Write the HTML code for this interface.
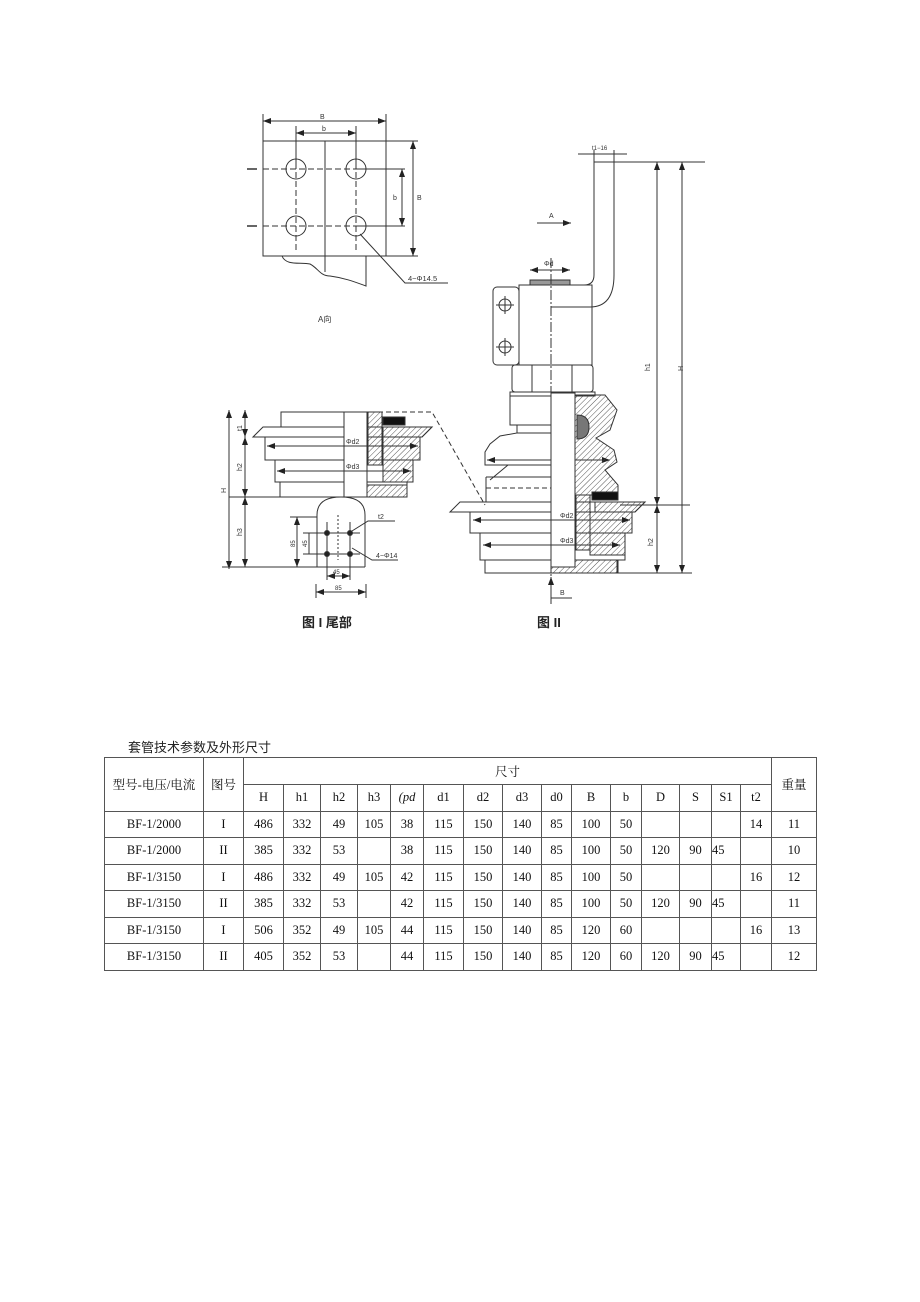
<!DOCTYPE html>
<html><head><meta charset="utf-8"><style>
html,body{margin:0;padding:0;background:#fff;}
body{width:920px;height:1302px;position:relative;overflow:hidden;font-family:"Liberation Serif","Noto Serif CJK SC",serif;}
svg{position:absolute;left:0;top:0;}
.t{position:absolute;left:128px;top:737px;font-size:13px;color:#222;font-family:"Liberation Sans","Noto Sans CJK SC",sans-serif;}
table{position:absolute;left:104px;top:757px;border-collapse:collapse;font-size:12.5px;color:#111;}
td{border:1px solid #555;text-align:center;padding:0;height:25.5px;}
</style></head><body>
<svg width="920" height="700" viewBox="0 0 920 700">
<defs>
<pattern id="h" width="4" height="4" patternUnits="userSpaceOnUse" patternTransform="rotate(45)"><line x1="0" y1="0" x2="0" y2="4" stroke="#444" stroke-width="0.9"/></pattern>
<marker id="a" markerWidth="8" markerHeight="6" refX="8" refY="3" orient="auto-start-reverse"><path d="M0,0L8,3L0,6z" fill="#222"/></marker>
</defs>
<g stroke="#333" stroke-width="1" fill="none" font-family="Liberation Sans, sans-serif" font-size="7">
<!-- A view -->
<line x1="263" y1="114" x2="263" y2="141"/><line x1="386" y1="114" x2="386" y2="141"/>
<line x1="263" y1="121" x2="386" y2="121" marker-start="url(#a)" marker-end="url(#a)"/>
<line x1="296" y1="126" x2="296" y2="169"/><line x1="356" y1="126" x2="356" y2="169"/>
<line x1="296" y1="133" x2="356" y2="133" marker-start="url(#a)" marker-end="url(#a)"/>
<rect x="263" y="141" width="123" height="115"/>
<line x1="386" y1="141" x2="418" y2="141"/><line x1="386" y1="256" x2="418" y2="256"/>
<line x1="413" y1="141" x2="413" y2="256" marker-start="url(#a)" marker-end="url(#a)"/>
<line x1="356" y1="169" x2="405" y2="169"/><line x1="356" y1="226" x2="405" y2="226"/>
<line x1="402" y1="169" x2="402" y2="226" marker-start="url(#a)" marker-end="url(#a)"/>
<line x1="247" y1="169" x2="257" y2="169" stroke-width="1.5"/><line x1="247" y1="226" x2="257" y2="226" stroke-width="1.5"/>
<line x1="263" y1="169" x2="386" y2="169" stroke-dasharray="6,3"/><line x1="263" y1="226" x2="386" y2="226" stroke-dasharray="6,3"/>
<line x1="296" y1="145" x2="296" y2="252" stroke-dasharray="6,3"/><line x1="356" y1="145" x2="356" y2="252" stroke-dasharray="6,3"/>
<line x1="325" y1="141" x2="325" y2="272"/>
<circle cx="296" cy="169" r="10"/><circle cx="356" cy="169" r="10"/><circle cx="296" cy="226" r="10"/><circle cx="356" cy="226" r="10"/>
<path d="M282,256 C286,266 300,262 310,264 C318,268 320,276 330,276 C345,278 355,282 366,286 L366,256"/>
<polyline points="360,234 405,283 448,283"/>
<text x="408" y="281" fill="#333" stroke="none" font-size="7.5">4−Φ14.5</text>
<text x="318" y="322" fill="#333" stroke="none" font-size="8">A向</text>
<text x="320" y="119" fill="#333" stroke="none">B</text><text x="322" y="131" fill="#333" stroke="none">b</text>
<text x="393" y="200" fill="#333" stroke="none">b</text><text x="417" y="200" fill="#333" stroke="none">B</text>
<!-- Figure II -->
<line x1="578" y1="154" x2="627" y2="154"/><text x="592" y="150" fill="#333" stroke="none" font-size="6">t1−16</text>
<line x1="594" y1="162" x2="705" y2="162"/>
<path d="M594,150 L594,275 M614,150 L614,275 Q614,307 590,307 L551,307 M594,275 Q594,285 584,285 L551,285"/>
<line x1="537" y1="223" x2="571" y2="223" marker-end="url(#a)"/><text x="549" y="218" fill="#333" stroke="none">A</text>
<line x1="530" y1="270" x2="570" y2="270" marker-start="url(#a)" marker-end="url(#a)"/><text x="544" y="266" fill="#333" stroke="none">Φd</text>
<rect x="530" y="280" width="40" height="5" fill="#999"/>
<rect x="519" y="285" width="73" height="80"/>
<rect x="493" y="287" width="26" height="78" rx="4"/>
<circle cx="505" cy="305" r="6"/><circle cx="505" cy="347" r="6"/>
<path d="M496,305h18M505,296v18M496,347h18M505,338v18"/>
<rect x="512" y="365" width="81" height="27" rx="3"/><line x1="532" y1="365" x2="532" y2="392"/><line x1="572" y1="365" x2="572" y2="392"/>
<rect x="510" y="392" width="85" height="4"/>
<rect x="510" y="396" width="65" height="29"/>
<path d="M517,425 L517,433 L500,436 L490,444 L485,452 L485,465 L575,465"/>
<line x1="517" y1="433" x2="575" y2="433"/>
<line x1="508" y1="465" x2="490" y2="480"/>
<path d="M486,477 L486,507 M486,477 L575,477"/>
<line x1="486" y1="488" x2="575" y2="488" stroke-dasharray="5,3"/>
<line x1="487" y1="460" x2="610" y2="460" marker-start="url(#a)" marker-end="url(#a)"/><text x="560" y="457" fill="#333" stroke="none">Φd1</text>
<path d="M575,395 L605,395 L617,410 L610,430 L596,438 L614,450 L617,462 L605,470 L618,485 L618,495 L575,495Z" fill="url(#h)"/>
<path d="M577,415 q12,0 12,12 q0,12 -12,12z" fill="#777"/>
<rect x="592" y="492" width="26" height="8" fill="#111"/>
<path d="M450,512 L460,502 L645,502 L635,512Z" fill="#fff"/><path d="M595,502 L645,502 L635,512 L595,512Z" fill="url(#h)"/>
<rect x="470" y="512" width="162" height="21"/><rect x="480" y="533" width="145" height="27"/><rect x="485" y="560" width="133" height="13"/>
<path d="M590,512 L632,512 L632,533 L625,533 L625,555 L590,555Z" fill="url(#h)"/>
<rect x="551" y="560" width="66" height="13" fill="url(#h)"/>
<rect x="551" y="393" width="24" height="174" fill="#fff"/>
<rect x="576" y="495" width="14" height="55" fill="url(#h)"/>
<line x1="551" y1="258" x2="551" y2="605" stroke-dasharray="10,2,2,2"/>
<line x1="473" y1="520" x2="630" y2="520" marker-start="url(#a)" marker-end="url(#a)"/><text x="560" y="518" fill="#333" stroke="none">Φd2</text>
<line x1="483" y1="545" x2="620" y2="545" marker-start="url(#a)" marker-end="url(#a)"/><text x="560" y="543" fill="#333" stroke="none">Φd3</text>
<line x1="485" y1="573" x2="692" y2="573"/><line x1="620" y1="505" x2="690" y2="505"/>
<line x1="657" y1="162" x2="657" y2="505" marker-start="url(#a)" marker-end="url(#a)"/>
<line x1="657" y1="505" x2="657" y2="573" marker-start="url(#a)" marker-end="url(#a)"/>
<line x1="682" y1="162" x2="682" y2="573" marker-start="url(#a)" marker-end="url(#a)"/>
<text x="645" y="370" fill="#333" stroke="none" transform="rotate(-90 648 368)">h1</text>
<text x="678" y="370" fill="#333" stroke="none" transform="rotate(-90 681 368)">H</text>
<text x="648" y="545" fill="#333" stroke="none" transform="rotate(-90 651 543)">h2</text>
<path d="M551,598 L551,577" marker-end="url(#a)"/><line x1="551" y1="598" x2="572" y2="598"/><text x="560" y="595" fill="#333" stroke="none">B</text>
<!-- Figure I -->
<path d="M282,412 L432,412 L485,505" stroke-dasharray="5,3"/>
<line x1="229" y1="410" x2="229" y2="569" marker-start="url(#a)" marker-end="url(#a)"/>
<line x1="245" y1="410" x2="245" y2="437" marker-start="url(#a)" marker-end="url(#a)"/>
<line x1="245" y1="437" x2="245" y2="497" marker-start="url(#a)" marker-end="url(#a)"/>
<line x1="245" y1="497" x2="245" y2="567" marker-start="url(#a)" marker-end="url(#a)"/>
<text x="237" y="430" fill="#333" stroke="none" transform="rotate(-90 240 428)">t1</text>
<text x="237" y="470" fill="#333" stroke="none" transform="rotate(-90 240 468)">h2</text>
<text x="221" y="492" fill="#333" stroke="none" transform="rotate(-90 224 490)">H</text>
<text x="237" y="535" fill="#333" stroke="none" transform="rotate(-90 240 533)">h3</text>
<rect x="281" y="412" width="63" height="15"/>
<path d="M253,437 L263,427 L432,427 L422,437Z" fill="#fff"/><path d="M383,427 L432,427 L422,437 L383,437Z" fill="url(#h)"/>
<rect x="265" y="437" width="155" height="23"/><rect x="275" y="460" width="138" height="22"/><rect x="280" y="482" width="127" height="15"/>
<path d="M383,437 L420,437 L420,460 L413,460 L413,482 L383,482Z" fill="url(#h)"/>
<rect x="367" y="485" width="40" height="12" fill="url(#h)"/>
<rect x="368" y="412" width="14" height="53" fill="url(#h)"/>
<rect x="383" y="417" width="22" height="8" fill="#111"/>
<rect x="344" y="412" width="23" height="85" fill="#fff"/>
<line x1="229" y1="497" x2="407" y2="497"/>
<line x1="267" y1="446" x2="418" y2="446" marker-start="url(#a)" marker-end="url(#a)"/><text x="346" y="444" fill="#333" stroke="none">Φd2</text>
<line x1="277" y1="471" x2="411" y2="471" marker-start="url(#a)" marker-end="url(#a)"/><text x="346" y="469" fill="#333" stroke="none">Φd3</text>
<path d="M317,567 L317,515 Q317,497 341,497 Q365,497 365,515 L365,567"/>
<line x1="222" y1="567" x2="365" y2="567"/>
<line x1="303" y1="533" x2="360" y2="533"/><line x1="303" y1="554" x2="360" y2="554"/>
<line x1="327" y1="522" x2="327" y2="580"/><line x1="350" y1="522" x2="350" y2="580"/>
<line x1="338" y1="515" x2="338" y2="560" stroke-dasharray="2,2"/>
<g fill="#222"><circle cx="327" cy="533" r="2.5"/><circle cx="350" cy="533" r="2.5"/><circle cx="327" cy="554" r="2.5"/><circle cx="350" cy="554" r="2.5"/></g>
<line x1="290" y1="517" x2="317" y2="517"/>
<line x1="297" y1="517" x2="297" y2="567" marker-start="url(#a)" marker-end="url(#a)"/>
<line x1="309" y1="533" x2="309" y2="554"/>
<text x="290" y="548" fill="#333" stroke="none" font-size="6" transform="rotate(-90 292 545)">85</text>
<text x="302" y="548" fill="#333" stroke="none" font-size="6" transform="rotate(-90 304 545)">45</text>
<line x1="327" y1="576" x2="350" y2="576" marker-start="url(#a)" marker-end="url(#a)"/><text x="333" y="574" fill="#333" stroke="none" font-size="6">45</text>
<line x1="316" y1="584" x2="316" y2="598"/><line x1="366" y1="584" x2="366" y2="598"/>
<line x1="316" y1="592" x2="366" y2="592" marker-start="url(#a)" marker-end="url(#a)"/><text x="335" y="590" fill="#333" stroke="none" font-size="6">85</text>
<polyline points="352,531 368,521 395,521"/><text x="378" y="519" fill="#333" stroke="none">t2</text>
<polyline points="352,548 372,560 398,560"/><text x="376" y="558" fill="#333" stroke="none">4−Φ14</text>
</g>
<text x="302" y="627" font-family="Liberation Sans, Noto Sans CJK SC, sans-serif" font-weight="bold" font-size="13" fill="#222">图 I 尾部</text>
<text x="537" y="627" font-family="Liberation Sans, Noto Sans CJK SC, sans-serif" font-weight="bold" font-size="13" fill="#222">图 II</text>
</svg>
<div class="t">套管技术参数及外形尺寸</div>
<table>
<colgroup><col style="width:99px"><col style="width:40px"><col style="width:40px"><col style="width:37px"><col style="width:37px"><col style="width:33px"><col style="width:33px"><col style="width:40px"><col style="width:39px"><col style="width:39px"><col style="width:30px"><col style="width:39px"><col style="width:31px"><col style="width:38px"><col style="width:32px"><col style="width:29px"><col style="width:31px"><col style="width:45px"></colgroup>
<tr><td rowspan="2" style="font-family:'Liberation Serif','Noto Serif CJK SC',serif">型号-电压/电流</td><td rowspan="2">图号</td><td colspan="15" style="height:26px">尺寸</td><td rowspan="2">重量</td></tr>
<tr><td>H</td><td>h1</td><td>h2</td><td>h3</td><td><i>(pd</i></td><td>d1</td><td>d2</td><td>d3</td><td>d0</td><td>B</td><td>b</td><td>D</td><td>S</td><td>S1</td><td>t2</td></tr>
<tr><td>BF-1/2000</td><td>I</td><td>486</td><td>332</td><td>49</td><td>105</td><td>38</td><td>115</td><td>150</td><td>140</td><td>85</td><td>100</td><td>50</td><td></td><td></td><td></td><td>14</td><td>11</td></tr>
<tr><td>BF-1/2000</td><td>II</td><td>385</td><td>332</td><td>53</td><td></td><td>38</td><td>115</td><td>150</td><td>140</td><td>85</td><td>100</td><td>50</td><td>120</td><td>90</td><td style="text-align:left">45</td><td></td><td>10</td></tr>
<tr><td>BF-1/3150</td><td>I</td><td>486</td><td>332</td><td>49</td><td>105</td><td>42</td><td>115</td><td>150</td><td>140</td><td>85</td><td>100</td><td>50</td><td></td><td></td><td></td><td>16</td><td>12</td></tr>
<tr><td>BF-1/3150</td><td>II</td><td>385</td><td>332</td><td>53</td><td></td><td>42</td><td>115</td><td>150</td><td>140</td><td>85</td><td>100</td><td>50</td><td>120</td><td>90</td><td style="text-align:left">45</td><td></td><td>11</td></tr>
<tr><td>BF-1/3150</td><td>I</td><td>506</td><td>352</td><td>49</td><td>105</td><td>44</td><td>115</td><td>150</td><td>140</td><td>85</td><td>120</td><td>60</td><td></td><td></td><td></td><td>16</td><td>13</td></tr>
<tr><td>BF-1/3150</td><td>II</td><td>405</td><td>352</td><td>53</td><td></td><td>44</td><td>115</td><td>150</td><td>140</td><td>85</td><td>120</td><td>60</td><td>120</td><td>90</td><td style="text-align:left">45</td><td></td><td>12</td></tr>
</table>
</body></html>
